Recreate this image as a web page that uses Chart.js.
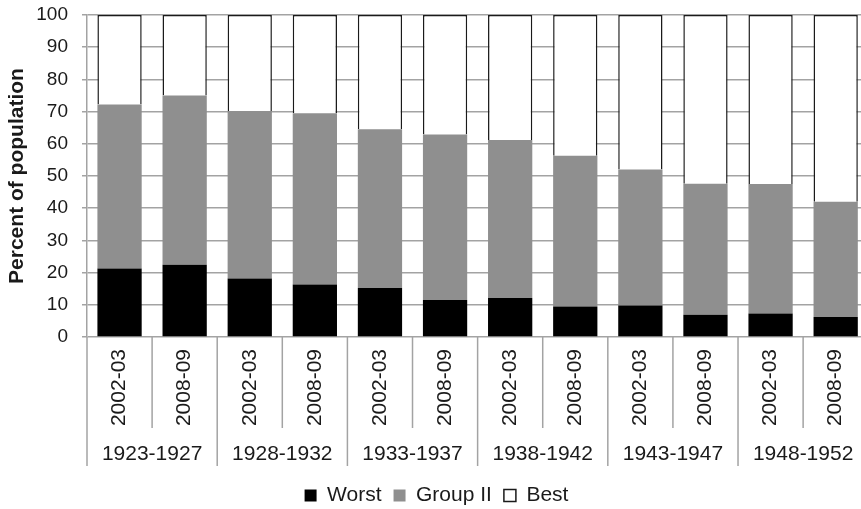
<!DOCTYPE html>
<html>
<head>
<meta charset="utf-8">
<script src="https://cdn.jsdelivr.net/npm/chart.js@4/dist/chart.umd.min.js"></script>
<style>
  html, body { margin: 0; padding: 0; background: #fff; overflow: hidden; }
  #wrap { width: 873px; height: 509px; }
</style>
</head>
<body>
<div id="wrap"><canvas id="c" width="873" height="509"></canvas></div>
<script>
// ---- data ----
const surveyLabels = ["2002-03","2008-09","2002-03","2008-09","2002-03","2008-09","2002-03","2008-09","2002-03","2008-09","2002-03","2008-09"];
const cohortLabels = ["1923-1927","1928-1932","1933-1937","1938-1942","1943-1947","1948-1952"];
const worst   = [21.3, 22.4, 18.2, 16.3, 15.2, 11.5, 12.1, 9.5, 9.8, 6.9, 7.3, 6.2];
const groupII = [50.9, 52.6, 52.0, 53.2, 49.3, 51.4, 49.1, 46.8, 42.2, 40.7, 40.2, 35.8];
const best    = [27.8, 25.0, 29.8, 30.5, 35.5, 37.1, 38.8, 43.7, 48.0, 52.4, 52.5, 58.0];
const yTicks  = [0, 10, 20, 30, 40, 50, 60, 70, 80, 90, 100];

const FONT = "'Liberation Sans', Arial, sans-serif";
const TEXT = "#1a1a1a";
const GRID = "#a3a3a3";

const separators = {
  id: 'separators',
  afterDraw(chart) {
    const x = chart.scales.x, x2 = chart.scales.x2, ca = chart.chartArea;
    const ctx = chart.ctx;
    const p0 = x.getPixelForValue(0), p1 = x.getPixelForValue(1);
    const step = p1 - p0;
    ctx.save();
    ctx.strokeStyle = GRID;
    ctx.lineWidth = 1.5;
    for (let i = 0; i <= surveyLabels.length; i++) {
      const px = p0 + (i - 0.5) * step;
      const end = (i % 2 === 0) ? x2.top + 38 : x.bottom;
      ctx.beginPath();
      ctx.moveTo(px, ca.bottom);
      ctx.lineTo(px, end);
      ctx.stroke();
    }
    ctx.restore();
  }
};

new Chart(document.getElementById('c'), {
  type: 'bar',
  data: {
    labels: surveyLabels,
    datasets: [
      { label: 'Worst', data: worst, backgroundColor: '#000000', borderWidth: 0 },
      { label: 'Group II', data: groupII, backgroundColor: '#8f8f8f', borderWidth: 0 },
      { label: 'Best', data: best, backgroundColor: '#ffffff', borderColor: '#1a1a1a', borderWidth: 1.5 }
    ]
  },
  options: {
    responsive: false,
    animation: false,
    devicePixelRatio: 1,
    layout: { padding: { left: 3, right: 3, top: 0, bottom: -7 } },
    datasets: { bar: { categoryPercentage: 1.0, barPercentage: 0.68 } },
    plugins: {
      tooltip: { enabled: false },
      legend: {
        position: 'bottom',
        labels: {
          boxWidth: 12, boxHeight: 12, padding: 12,
          color: TEXT,
          font: { family: FONT, size: 21 }
        }
      }
    },
    scales: {
      x: {
        stacked: true,
        offset: true,
        grid: { display: false, drawTicks: false },
        border: { display: false },
        afterFit(scale) { scale.height = 91; },
        ticks: {
          autoSkip: false, maxRotation: 90, minRotation: 90, padding: 12,
          color: TEXT, font: { family: FONT, size: 21 }
        }
      },
      x2: {
        type: 'category',
        labels: cohortLabels,
        position: 'bottom',
        offset: true,
        grid: { display: false, drawTicks: false },
        border: { display: false },
        afterFit(scale) { scale.height = 45; },
        ticks: { padding: 14, color: TEXT, font: { family: FONT, size: 21 } }
      },
      y: {
        stacked: true,
        min: 0, max: 100,
        afterBuildTicks(scale) { scale.ticks = yTicks.map(v => ({ value: v })); },
        afterFit(scale) { scale.width = 84; scale.paddingTop = 15; scale.paddingBottom = 0; },
        grid: { color: GRID, lineWidth: 1.5, tickLength: 5 },
        border: { color: GRID, width: 1.5 },
        ticks: { padding: 14, color: TEXT, font: { family: FONT, size: 19 } },
        title: {
          display: true, text: 'Percent of population',
          color: TEXT, font: { family: FONT, size: 21, weight: 'bold' },
          padding: { top: 2, bottom: 4 }
        }
      }
    }
  },
  plugins: [separators]
});
</script>
</body>
</html>
